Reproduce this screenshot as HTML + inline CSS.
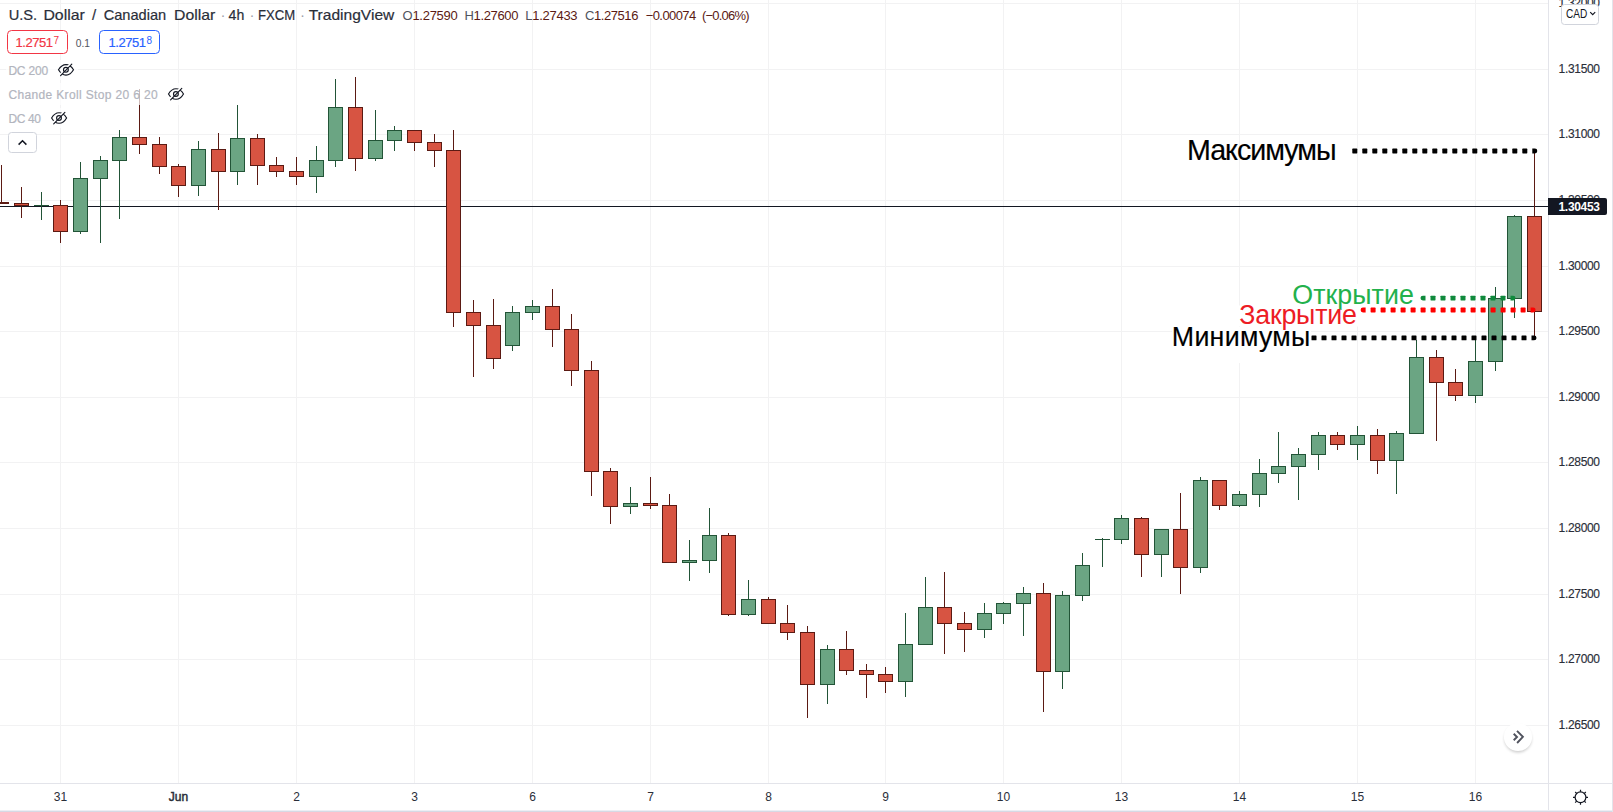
<!DOCTYPE html>
<html lang="ru"><head><meta charset="utf-8"><title>USDCAD 4h</title>
<style>html,body{margin:0;padding:0;background:#fff;overflow:hidden}svg{display:block}text{font-family:"Liberation Sans",sans-serif}</style>
</head><body>
<svg width="1613" height="812" viewBox="0 0 1613 812">
<rect width="1613" height="812" fill="#fff"/>
<g shape-rendering="crispEdges">
<rect x="60" y="0" width="1" height="783" fill="#f2f2f3"/>
<rect x="178" y="0" width="1" height="783" fill="#f2f2f3"/>
<rect x="296" y="0" width="1" height="783" fill="#f2f2f3"/>
<rect x="414" y="0" width="1" height="783" fill="#f2f2f3"/>
<rect x="532" y="0" width="1" height="783" fill="#f2f2f3"/>
<rect x="650" y="0" width="1" height="783" fill="#f2f2f3"/>
<rect x="768" y="0" width="1" height="783" fill="#f2f2f3"/>
<rect x="885" y="0" width="1" height="783" fill="#f2f2f3"/>
<rect x="1003" y="0" width="1" height="783" fill="#f2f2f3"/>
<rect x="1121" y="0" width="1" height="783" fill="#f2f2f3"/>
<rect x="1239" y="0" width="1" height="783" fill="#f2f2f3"/>
<rect x="1357" y="0" width="1" height="783" fill="#f2f2f3"/>
<rect x="1475" y="0" width="1" height="783" fill="#f2f2f3"/>
<rect x="0" y="3" width="1548" height="1" fill="#f2f2f3"/>
<rect x="0" y="69" width="1548" height="1" fill="#f2f2f3"/>
<rect x="0" y="134" width="1548" height="1" fill="#f2f2f3"/>
<rect x="0" y="200" width="1548" height="1" fill="#f2f2f3"/>
<rect x="0" y="266" width="1548" height="1" fill="#f2f2f3"/>
<rect x="0" y="331" width="1548" height="1" fill="#f2f2f3"/>
<rect x="0" y="397" width="1548" height="1" fill="#f2f2f3"/>
<rect x="0" y="462" width="1548" height="1" fill="#f2f2f3"/>
<rect x="0" y="528" width="1548" height="1" fill="#f2f2f3"/>
<rect x="0" y="594" width="1548" height="1" fill="#f2f2f3"/>
<rect x="0" y="659" width="1548" height="1" fill="#f2f2f3"/>
<rect x="0" y="725" width="1548" height="1" fill="#f2f2f3"/>
</g>
<rect x="0" y="206" width="1548" height="1" fill="#131722" shape-rendering="crispEdges"/>
<g shape-rendering="crispEdges">
<rect x="1" y="165" width="1" height="39" fill="#5b1a13"/>
<rect x="-6" y="202" width="15" height="2" fill="#5b1a13"/>
<rect x="21" y="187" width="1" height="31" fill="#5b1a13"/>
<rect x="14" y="203" width="15" height="3" fill="#5b1a13"/>
<rect x="15" y="204" width="13" height="1" fill="#d75442"/>
<rect x="41" y="192" width="1" height="28" fill="#225437"/>
<rect x="34" y="205" width="15" height="1" fill="#225437"/>
<rect x="60" y="200" width="1" height="43" fill="#5b1a13"/>
<rect x="53" y="205" width="15" height="27" fill="#5b1a13"/>
<rect x="54" y="206" width="13" height="25" fill="#d75442"/>
<rect x="80" y="162" width="1" height="72" fill="#225437"/>
<rect x="73" y="178" width="15" height="54" fill="#225437"/>
<rect x="74" y="179" width="13" height="52" fill="#6ba583"/>
<rect x="100" y="156" width="1" height="87" fill="#225437"/>
<rect x="93" y="160" width="15" height="19" fill="#225437"/>
<rect x="94" y="161" width="13" height="17" fill="#6ba583"/>
<rect x="119" y="130" width="1" height="89" fill="#225437"/>
<rect x="112" y="137" width="15" height="24" fill="#225437"/>
<rect x="113" y="138" width="13" height="22" fill="#6ba583"/>
<rect x="139" y="89" width="1" height="65" fill="#5b1a13"/>
<rect x="132" y="137" width="15" height="8" fill="#5b1a13"/>
<rect x="133" y="138" width="13" height="6" fill="#d75442"/>
<rect x="159" y="137" width="1" height="37" fill="#5b1a13"/>
<rect x="152" y="144" width="15" height="23" fill="#5b1a13"/>
<rect x="153" y="145" width="13" height="21" fill="#d75442"/>
<rect x="178" y="164" width="1" height="33" fill="#5b1a13"/>
<rect x="171" y="166" width="15" height="20" fill="#5b1a13"/>
<rect x="172" y="167" width="13" height="18" fill="#d75442"/>
<rect x="198" y="141" width="1" height="55" fill="#225437"/>
<rect x="191" y="149" width="15" height="37" fill="#225437"/>
<rect x="192" y="150" width="13" height="35" fill="#6ba583"/>
<rect x="218" y="133" width="1" height="77" fill="#5b1a13"/>
<rect x="211" y="149" width="15" height="23" fill="#5b1a13"/>
<rect x="212" y="150" width="13" height="21" fill="#d75442"/>
<rect x="237" y="105" width="1" height="80" fill="#225437"/>
<rect x="230" y="138" width="15" height="34" fill="#225437"/>
<rect x="231" y="139" width="13" height="32" fill="#6ba583"/>
<rect x="257" y="134" width="1" height="51" fill="#5b1a13"/>
<rect x="250" y="138" width="15" height="28" fill="#5b1a13"/>
<rect x="251" y="139" width="13" height="26" fill="#d75442"/>
<rect x="276" y="157" width="1" height="20" fill="#5b1a13"/>
<rect x="269" y="165" width="15" height="7" fill="#5b1a13"/>
<rect x="270" y="166" width="13" height="5" fill="#d75442"/>
<rect x="296" y="157" width="1" height="28" fill="#5b1a13"/>
<rect x="289" y="171" width="15" height="6" fill="#5b1a13"/>
<rect x="290" y="172" width="13" height="4" fill="#d75442"/>
<rect x="316" y="146" width="1" height="47" fill="#225437"/>
<rect x="309" y="160" width="15" height="17" fill="#225437"/>
<rect x="310" y="161" width="13" height="15" fill="#6ba583"/>
<rect x="335" y="79" width="1" height="88" fill="#225437"/>
<rect x="328" y="107" width="15" height="54" fill="#225437"/>
<rect x="329" y="108" width="13" height="52" fill="#6ba583"/>
<rect x="355" y="77" width="1" height="94" fill="#5b1a13"/>
<rect x="348" y="107" width="15" height="52" fill="#5b1a13"/>
<rect x="349" y="108" width="13" height="50" fill="#d75442"/>
<rect x="375" y="110" width="1" height="51" fill="#225437"/>
<rect x="368" y="140" width="15" height="19" fill="#225437"/>
<rect x="369" y="141" width="13" height="17" fill="#6ba583"/>
<rect x="394" y="126" width="1" height="25" fill="#225437"/>
<rect x="387" y="130" width="15" height="11" fill="#225437"/>
<rect x="388" y="131" width="13" height="9" fill="#6ba583"/>
<rect x="414" y="130" width="1" height="21" fill="#5b1a13"/>
<rect x="407" y="130" width="15" height="13" fill="#5b1a13"/>
<rect x="408" y="131" width="13" height="11" fill="#d75442"/>
<rect x="434" y="134" width="1" height="33" fill="#5b1a13"/>
<rect x="427" y="142" width="15" height="9" fill="#5b1a13"/>
<rect x="428" y="143" width="13" height="7" fill="#d75442"/>
<rect x="453" y="130" width="1" height="197" fill="#5b1a13"/>
<rect x="446" y="150" width="15" height="163" fill="#5b1a13"/>
<rect x="447" y="151" width="13" height="161" fill="#d75442"/>
<rect x="473" y="300" width="1" height="77" fill="#5b1a13"/>
<rect x="466" y="312" width="15" height="14" fill="#5b1a13"/>
<rect x="467" y="313" width="13" height="12" fill="#d75442"/>
<rect x="493" y="299" width="1" height="70" fill="#5b1a13"/>
<rect x="486" y="325" width="15" height="34" fill="#5b1a13"/>
<rect x="487" y="326" width="13" height="32" fill="#d75442"/>
<rect x="512" y="306" width="1" height="45" fill="#225437"/>
<rect x="505" y="312" width="15" height="34" fill="#225437"/>
<rect x="506" y="313" width="13" height="32" fill="#6ba583"/>
<rect x="532" y="300" width="1" height="20" fill="#225437"/>
<rect x="525" y="306" width="15" height="7" fill="#225437"/>
<rect x="526" y="307" width="13" height="5" fill="#6ba583"/>
<rect x="552" y="289" width="1" height="58" fill="#5b1a13"/>
<rect x="545" y="306" width="15" height="24" fill="#5b1a13"/>
<rect x="546" y="307" width="13" height="22" fill="#d75442"/>
<rect x="571" y="314" width="1" height="72" fill="#5b1a13"/>
<rect x="564" y="329" width="15" height="42" fill="#5b1a13"/>
<rect x="565" y="330" width="13" height="40" fill="#d75442"/>
<rect x="591" y="361" width="1" height="135" fill="#5b1a13"/>
<rect x="584" y="370" width="15" height="102" fill="#5b1a13"/>
<rect x="585" y="371" width="13" height="100" fill="#d75442"/>
<rect x="610" y="468" width="1" height="56" fill="#5b1a13"/>
<rect x="603" y="471" width="15" height="36" fill="#5b1a13"/>
<rect x="604" y="472" width="13" height="34" fill="#d75442"/>
<rect x="630" y="487" width="1" height="27" fill="#225437"/>
<rect x="623" y="503" width="15" height="4" fill="#225437"/>
<rect x="624" y="504" width="13" height="2" fill="#6ba583"/>
<rect x="650" y="477" width="1" height="32" fill="#5b1a13"/>
<rect x="643" y="503" width="15" height="3" fill="#5b1a13"/>
<rect x="644" y="504" width="13" height="1" fill="#d75442"/>
<rect x="669" y="494" width="1" height="69" fill="#5b1a13"/>
<rect x="662" y="505" width="15" height="58" fill="#5b1a13"/>
<rect x="663" y="506" width="13" height="56" fill="#d75442"/>
<rect x="689" y="540" width="1" height="41" fill="#225437"/>
<rect x="682" y="560" width="15" height="3" fill="#225437"/>
<rect x="683" y="561" width="13" height="1" fill="#6ba583"/>
<rect x="709" y="508" width="1" height="65" fill="#225437"/>
<rect x="702" y="535" width="15" height="26" fill="#225437"/>
<rect x="703" y="536" width="13" height="24" fill="#6ba583"/>
<rect x="728" y="533" width="1" height="83" fill="#5b1a13"/>
<rect x="721" y="535" width="15" height="80" fill="#5b1a13"/>
<rect x="722" y="536" width="13" height="78" fill="#d75442"/>
<rect x="748" y="580" width="1" height="36" fill="#225437"/>
<rect x="741" y="599" width="15" height="16" fill="#225437"/>
<rect x="742" y="600" width="13" height="14" fill="#6ba583"/>
<rect x="768" y="597" width="1" height="27" fill="#5b1a13"/>
<rect x="761" y="599" width="15" height="25" fill="#5b1a13"/>
<rect x="762" y="600" width="13" height="23" fill="#d75442"/>
<rect x="787" y="605" width="1" height="35" fill="#5b1a13"/>
<rect x="780" y="623" width="15" height="10" fill="#5b1a13"/>
<rect x="781" y="624" width="13" height="8" fill="#d75442"/>
<rect x="807" y="626" width="1" height="92" fill="#5b1a13"/>
<rect x="800" y="632" width="15" height="53" fill="#5b1a13"/>
<rect x="801" y="633" width="13" height="51" fill="#d75442"/>
<rect x="827" y="645" width="1" height="59" fill="#225437"/>
<rect x="820" y="649" width="15" height="36" fill="#225437"/>
<rect x="821" y="650" width="13" height="34" fill="#6ba583"/>
<rect x="846" y="631" width="1" height="44" fill="#5b1a13"/>
<rect x="839" y="649" width="15" height="22" fill="#5b1a13"/>
<rect x="840" y="650" width="13" height="20" fill="#d75442"/>
<rect x="866" y="664" width="1" height="34" fill="#5b1a13"/>
<rect x="859" y="670" width="15" height="5" fill="#5b1a13"/>
<rect x="860" y="671" width="13" height="3" fill="#d75442"/>
<rect x="885" y="667" width="1" height="26" fill="#5b1a13"/>
<rect x="878" y="674" width="15" height="8" fill="#5b1a13"/>
<rect x="879" y="675" width="13" height="6" fill="#d75442"/>
<rect x="905" y="613" width="1" height="84" fill="#225437"/>
<rect x="898" y="644" width="15" height="38" fill="#225437"/>
<rect x="899" y="645" width="13" height="36" fill="#6ba583"/>
<rect x="925" y="577" width="1" height="68" fill="#225437"/>
<rect x="918" y="607" width="15" height="38" fill="#225437"/>
<rect x="919" y="608" width="13" height="36" fill="#6ba583"/>
<rect x="944" y="572" width="1" height="82" fill="#5b1a13"/>
<rect x="937" y="607" width="15" height="17" fill="#5b1a13"/>
<rect x="938" y="608" width="13" height="15" fill="#d75442"/>
<rect x="964" y="612" width="1" height="40" fill="#5b1a13"/>
<rect x="957" y="623" width="15" height="7" fill="#5b1a13"/>
<rect x="958" y="624" width="13" height="5" fill="#d75442"/>
<rect x="984" y="603" width="1" height="35" fill="#225437"/>
<rect x="977" y="613" width="15" height="17" fill="#225437"/>
<rect x="978" y="614" width="13" height="15" fill="#6ba583"/>
<rect x="1003" y="602" width="1" height="22" fill="#225437"/>
<rect x="996" y="603" width="15" height="11" fill="#225437"/>
<rect x="997" y="604" width="13" height="9" fill="#6ba583"/>
<rect x="1023" y="587" width="1" height="49" fill="#225437"/>
<rect x="1016" y="593" width="15" height="11" fill="#225437"/>
<rect x="1017" y="594" width="13" height="9" fill="#6ba583"/>
<rect x="1043" y="583" width="1" height="129" fill="#5b1a13"/>
<rect x="1036" y="593" width="15" height="79" fill="#5b1a13"/>
<rect x="1037" y="594" width="13" height="77" fill="#d75442"/>
<rect x="1062" y="591" width="1" height="98" fill="#225437"/>
<rect x="1055" y="595" width="15" height="77" fill="#225437"/>
<rect x="1056" y="596" width="13" height="75" fill="#6ba583"/>
<rect x="1082" y="553" width="1" height="48" fill="#225437"/>
<rect x="1075" y="565" width="15" height="31" fill="#225437"/>
<rect x="1076" y="566" width="13" height="29" fill="#6ba583"/>
<rect x="1102" y="538" width="1" height="29" fill="#225437"/>
<rect x="1095" y="539" width="15" height="1" fill="#225437"/>
<rect x="1121" y="515" width="1" height="29" fill="#225437"/>
<rect x="1114" y="518" width="15" height="22" fill="#225437"/>
<rect x="1115" y="519" width="13" height="20" fill="#6ba583"/>
<rect x="1141" y="517" width="1" height="60" fill="#5b1a13"/>
<rect x="1134" y="518" width="15" height="37" fill="#5b1a13"/>
<rect x="1135" y="519" width="13" height="35" fill="#d75442"/>
<rect x="1161" y="529" width="1" height="48" fill="#225437"/>
<rect x="1154" y="529" width="15" height="26" fill="#225437"/>
<rect x="1155" y="530" width="13" height="24" fill="#6ba583"/>
<rect x="1180" y="493" width="1" height="101" fill="#5b1a13"/>
<rect x="1173" y="529" width="15" height="39" fill="#5b1a13"/>
<rect x="1174" y="530" width="13" height="37" fill="#d75442"/>
<rect x="1200" y="477" width="1" height="96" fill="#225437"/>
<rect x="1193" y="480" width="15" height="88" fill="#225437"/>
<rect x="1194" y="481" width="13" height="86" fill="#6ba583"/>
<rect x="1219" y="480" width="1" height="30" fill="#5b1a13"/>
<rect x="1212" y="480" width="15" height="26" fill="#5b1a13"/>
<rect x="1213" y="481" width="13" height="24" fill="#d75442"/>
<rect x="1239" y="491" width="1" height="16" fill="#225437"/>
<rect x="1232" y="494" width="15" height="12" fill="#225437"/>
<rect x="1233" y="495" width="13" height="10" fill="#6ba583"/>
<rect x="1259" y="459" width="1" height="48" fill="#225437"/>
<rect x="1252" y="473" width="15" height="22" fill="#225437"/>
<rect x="1253" y="474" width="13" height="20" fill="#6ba583"/>
<rect x="1278" y="432" width="1" height="51" fill="#225437"/>
<rect x="1271" y="466" width="15" height="8" fill="#225437"/>
<rect x="1272" y="467" width="13" height="6" fill="#6ba583"/>
<rect x="1298" y="448" width="1" height="52" fill="#225437"/>
<rect x="1291" y="454" width="15" height="13" fill="#225437"/>
<rect x="1292" y="455" width="13" height="11" fill="#6ba583"/>
<rect x="1318" y="432" width="1" height="38" fill="#225437"/>
<rect x="1311" y="435" width="15" height="20" fill="#225437"/>
<rect x="1312" y="436" width="13" height="18" fill="#6ba583"/>
<rect x="1337" y="432" width="1" height="18" fill="#5b1a13"/>
<rect x="1330" y="435" width="15" height="10" fill="#5b1a13"/>
<rect x="1331" y="436" width="13" height="8" fill="#d75442"/>
<rect x="1357" y="426" width="1" height="34" fill="#225437"/>
<rect x="1350" y="435" width="15" height="10" fill="#225437"/>
<rect x="1351" y="436" width="13" height="8" fill="#6ba583"/>
<rect x="1377" y="429" width="1" height="45" fill="#5b1a13"/>
<rect x="1370" y="435" width="15" height="26" fill="#5b1a13"/>
<rect x="1371" y="436" width="13" height="24" fill="#d75442"/>
<rect x="1396" y="431" width="1" height="63" fill="#225437"/>
<rect x="1389" y="433" width="15" height="28" fill="#225437"/>
<rect x="1390" y="434" width="13" height="26" fill="#6ba583"/>
<rect x="1416" y="340" width="1" height="94" fill="#225437"/>
<rect x="1409" y="357" width="15" height="77" fill="#225437"/>
<rect x="1410" y="358" width="13" height="75" fill="#6ba583"/>
<rect x="1436" y="350" width="1" height="91" fill="#5b1a13"/>
<rect x="1429" y="357" width="15" height="26" fill="#5b1a13"/>
<rect x="1430" y="358" width="13" height="24" fill="#d75442"/>
<rect x="1455" y="369" width="1" height="32" fill="#5b1a13"/>
<rect x="1448" y="382" width="15" height="14" fill="#5b1a13"/>
<rect x="1449" y="383" width="13" height="12" fill="#d75442"/>
<rect x="1475" y="340" width="1" height="63" fill="#225437"/>
<rect x="1468" y="361" width="15" height="35" fill="#225437"/>
<rect x="1469" y="362" width="13" height="33" fill="#6ba583"/>
<rect x="1495" y="287" width="1" height="84" fill="#225437"/>
<rect x="1488" y="298" width="15" height="64" fill="#225437"/>
<rect x="1489" y="299" width="13" height="62" fill="#6ba583"/>
<rect x="1514" y="215" width="1" height="103" fill="#225437"/>
<rect x="1507" y="216" width="15" height="83" fill="#225437"/>
<rect x="1508" y="217" width="13" height="81" fill="#6ba583"/>
<rect x="1534" y="151" width="1" height="187" fill="#5b1a13"/>
<rect x="1527" y="216" width="15" height="96" fill="#5b1a13"/>
<rect x="1528" y="217" width="13" height="94" fill="#d75442"/>
</g>
<!-- axes -->
<g shape-rendering="crispEdges">
<rect x="1548" y="0" width="1" height="811" fill="#e3e4ea"/>
<rect x="0" y="783" width="1613" height="1" fill="#e3e4ea"/>
<rect x="0" y="810" width="1613" height="1" fill="#eceef4"/><rect x="0" y="811" width="1613" height="1" fill="#d6d9e4"/>
<rect x="1612" y="0" width="1" height="812" fill="#e3e4ea"/>
</g>
<!-- price labels -->
<g font-size="12" fill="#2a2e39" stroke="#2a2e39" stroke-width="0.15">
<text x="1558.6" y="6.7" textLength="41.4">1.32000</text>
<text x="1558.6" y="72.7" textLength="41.4">1.31500</text>
<text x="1558.6" y="137.7" textLength="41.4">1.31000</text>
<text x="1558.6" y="203.7" textLength="41.4">1.30500</text>
<text x="1558.6" y="269.7" textLength="41.4">1.30000</text>
<text x="1558.6" y="334.7" textLength="41.4">1.29500</text>
<text x="1558.6" y="400.7" textLength="41.4">1.29000</text>
<text x="1558.6" y="465.7" textLength="41.4">1.28500</text>
<text x="1558.6" y="531.7" textLength="41.4">1.28000</text>
<text x="1558.6" y="597.7" textLength="41.4">1.27500</text>
<text x="1558.6" y="662.7" textLength="41.4">1.27000</text>
<text x="1558.6" y="728.7" textLength="41.4">1.26500</text>
</g>
<!-- CAD selector -->
<rect x="1561.5" y="4.5" width="37" height="20" rx="3" fill="#fff" stroke="#d1d4dc"/>
<text x="1566" y="18" font-size="12" fill="#131722" textLength="21.3" lengthAdjust="spacingAndGlyphs">CAD</text>
<path d="M1590.2 12.2l2.5 2.5 2.5-2.5" fill="none" stroke="#131722" stroke-width="1.2"/>
<!-- current price label -->
<path d="M1548 198h57a2 2 0 0 1 2 2v13a2 2 0 0 1-2 2h-57z" fill="#131722"/>
<text x="1558.5" y="210.7" font-size="12" font-weight="bold" fill="#fff" textLength="41.5">1.30453</text>
<!-- time labels -->
<g font-size="12" fill="#2a2e39" text-anchor="middle">
<text x="60.5" y="801.1">31</text>
<text x="178.5" y="801.1" stroke="#2a2e39" stroke-width="0.45">Jun</text>
<text x="296.5" y="801.1">2</text>
<text x="414.5" y="801.1">3</text>
<text x="532.5" y="801.1">6</text>
<text x="650.5" y="801.1">7</text>
<text x="768.5" y="801.1">8</text>
<text x="885.5" y="801.1">9</text>
<text x="1003.5" y="801.1">10</text>
<text x="1121.5" y="801.1">13</text>
<text x="1239.5" y="801.1">14</text>
<text x="1357.5" y="801.1">15</text>
<text x="1475.5" y="801.1">16</text>
</g>
<!-- gear -->
<g fill="none" stroke="#131722" stroke-width="1.2">
<circle cx="1580.5" cy="797.3" r="5.4"/>
<path d="M1580.5 789.8v2M1580.5 802.8v2M1573 797.3h2M1586 797.3h2M1575.2 792l1.4 1.4M1584.4 801.2l1.4 1.4M1575.2 802.6l1.4-1.4M1584.4 793.4l1.4-1.4"/>
</g>
<!-- scroll to realtime button -->
<defs><filter id="sh" x="-40%" y="-40%" width="180%" height="190%"><feGaussianBlur stdDeviation="1.6"/></filter></defs>
<circle cx="1518" cy="739" r="13.5" fill="#000" opacity="0.2" filter="url(#sh)"/>
<circle cx="1518" cy="737" r="14.1" fill="#fff"/>
<path d="M1517 730.9l5.9 5.9-5.8 6.2M1513.7 733.8l3.3 3.2-3.3 3.2" fill="none" stroke="#50535e" stroke-width="1.9"/>
<!-- legend backgrounds (semi transparent) -->
<rect x="6" y="60" width="72" height="20" fill="#fff" opacity="0.7"/>
<rect x="6" y="83" width="182" height="22" fill="#fff" opacity="0.7"/>
<rect x="6" y="108" width="64" height="20" fill="#fff" opacity="0.7"/>
<!-- title -->
<g font-size="15" fill="#2a2e39" stroke="#2a2e39" stroke-width="0.2"><text x="8.7" y="19.8" textLength="28.5" lengthAdjust="spacingAndGlyphs">U.S.</text><text x="43.4" y="19.8" textLength="41.4" lengthAdjust="spacingAndGlyphs">Dollar</text><text x="92" y="19.8">/</text><text x="103.7" y="19.8" textLength="62.5" lengthAdjust="spacingAndGlyphs">Canadian</text><text x="174.1" y="19.8" textLength="41.2" lengthAdjust="spacingAndGlyphs">Dollar</text><text x="220.5" y="19.8" fill="#9da0aa" stroke="none">·</text><text x="228.6" y="19.8" textLength="15.7" lengthAdjust="spacingAndGlyphs">4h</text><text x="249.5" y="19.8" fill="#9da0aa" stroke="none">·</text><text x="257.9" y="19.8" textLength="37.2" lengthAdjust="spacingAndGlyphs">FXCM</text><text x="300" y="19.8" fill="#9da0aa" stroke="none">·</text><text x="308.7" y="19.8" textLength="85.6" lengthAdjust="spacingAndGlyphs">TradingView</text></g>
<g font-size="13">
<text x="402.6" y="20.2" fill="#50535e" textLength="55.1"><tspan>O</tspan><tspan fill="#5b1a13">1.27590</tspan></text>
<text x="464.5" y="20.2" fill="#50535e" textLength="53.9"><tspan>H</tspan><tspan fill="#5b1a13">1.27600</tspan></text>
<text x="525.3" y="20.2" fill="#50535e" textLength="52.3"><tspan>L</tspan><tspan fill="#5b1a13">1.27433</tspan></text>
<text x="585" y="20.2" fill="#50535e" textLength="53.4"><tspan>C</tspan><tspan fill="#5b1a13">1.27516</tspan></text>
<text x="645.7" y="20.2" fill="#5b1a13" textLength="50.5">−0.00074</text>
<text x="702" y="20.2" fill="#5b1a13" textLength="47.6">(−0.06%)</text>
</g>
<!-- bid/ask -->
<rect x="7.5" y="30.5" width="60" height="23" rx="4" fill="#fff" stroke="#f23645"/>
<text x="15.5" y="46.8" font-size="13" fill="#f23645" stroke="#f23645" stroke-width="0.2" textLength="37.5">1.2751</text>
<text x="53.5" y="44.4" font-size="10" fill="#f23645">7</text>
<text x="75.8" y="46.6" font-size="11.5" fill="#50535e" textLength="14.2" lengthAdjust="spacingAndGlyphs">0.1</text>
<rect x="99.5" y="30.5" width="60" height="23" rx="4" fill="#fff" stroke="#2962ff"/>
<text x="108.5" y="46.8" font-size="13" fill="#2962ff" stroke="#2962ff" stroke-width="0.2" textLength="37.5">1.2751</text>
<text x="146.5" y="44.4" font-size="10" fill="#2962ff">8</text>
<!-- indicators -->
<g font-size="12" fill="#b2b5be" stroke="#b2b5be" stroke-width="0.2">
<text x="8.4" y="74.7" textLength="39.7">DC 200</text>
<text x="8.4" y="98.9" textLength="149.3">Chande Kroll Stop 20 6 20</text>
<text x="8.4" y="122.7" textLength="32.5">DC 40</text>
</g>

<g transform="translate(66 69.8)" fill="none" stroke="#131722" stroke-width="1.15"><path d="M-7.5 0C-5.6-3.3-3-5.25 0-5.25S5.6-3.3 7.5 0C5.6 3.3 3 5.25 0 5.25S-5.6 3.3-7.5 0z"/><path d="M-6.1 5.1L5.1-6.3" stroke="#fff" stroke-width="2.2"/><circle cx="-0.1" cy="0" r="2.4"/><path d="M-5.4 5.8L5.8-5.6" stroke-linecap="round"/></g>
<g transform="translate(176 94)" fill="none" stroke="#131722" stroke-width="1.15"><path d="M-7.5 0C-5.6-3.3-3-5.25 0-5.25S5.6-3.3 7.5 0C5.6 3.3 3 5.25 0 5.25S-5.6 3.3-7.5 0z"/><path d="M-6.1 5.1L5.1-6.3" stroke="#fff" stroke-width="2.2"/><circle cx="-0.1" cy="0" r="2.4"/><path d="M-5.4 5.8L5.8-5.6" stroke-linecap="round"/></g>
<g transform="translate(59.1 118)" fill="none" stroke="#131722" stroke-width="1.15"><path d="M-7.5 0C-5.6-3.3-3-5.25 0-5.25S5.6-3.3 7.5 0C5.6 3.3 3 5.25 0 5.25S-5.6 3.3-7.5 0z"/><path d="M-6.1 5.1L5.1-6.3" stroke="#fff" stroke-width="2.2"/><circle cx="-0.1" cy="0" r="2.4"/><path d="M-5.4 5.8L5.8-5.6" stroke-linecap="round"/></g>
<!-- collapse button -->
<rect x="8.5" y="132.5" width="28" height="20" rx="3" fill="#fff" stroke="#d1d4dc"/>
<path d="M18.6 144.6l3.9-3.9 3.9 3.9" fill="none" stroke="#131722" stroke-width="1.5"/>
<!-- annotations -->
<rect x="1292" y="284" width="122" height="22" fill="#fff"/><rect x="1238" y="305.5" width="120" height="21" fill="#fff"/><rect x="1172" y="327" width="139" height="36" fill="#fff"/>
<g fill="#000"><rect x="1352.3" y="148.60" width="5" height="4.8" rx="0.6"/><rect x="1362.3" y="148.60" width="5" height="4.8" rx="0.6"/><rect x="1372.3" y="148.60" width="5" height="4.8" rx="0.6"/><rect x="1382.3" y="148.60" width="5" height="4.8" rx="0.6"/><rect x="1392.3" y="148.60" width="5" height="4.8" rx="0.6"/><rect x="1402.3" y="148.60" width="5" height="4.8" rx="0.6"/><rect x="1412.3" y="148.60" width="5" height="4.8" rx="0.6"/><rect x="1422.3" y="148.60" width="5" height="4.8" rx="0.6"/><rect x="1432.3" y="148.60" width="5" height="4.8" rx="0.6"/><rect x="1442.3" y="148.60" width="5" height="4.8" rx="0.6"/><rect x="1452.3" y="148.60" width="5" height="4.8" rx="0.6"/><rect x="1462.3" y="148.60" width="5" height="4.8" rx="0.6"/><rect x="1472.3" y="148.60" width="5" height="4.8" rx="0.6"/><rect x="1482.3" y="148.60" width="5" height="4.8" rx="0.6"/><rect x="1492.3" y="148.60" width="5" height="4.8" rx="0.6"/><rect x="1502.3" y="148.60" width="5" height="4.8" rx="0.6"/><rect x="1512.3" y="148.60" width="5" height="4.8" rx="0.6"/><rect x="1522.3" y="148.60" width="5" height="4.8" rx="0.6"/><path d="M1532.3 148.60h2.6a2.4 2.4 0 0 1 0 4.8h-2.6z"/></g>
<g fill="#0f8a3c"><path d="M1425.5 295.65h-2.6a2.4 2.4 0 0 0 0 4.8h2.6z"/><rect x="1430.5" y="295.65" width="5" height="4.8" rx="0.6"/><rect x="1440.5" y="295.65" width="5" height="4.8" rx="0.6"/><rect x="1450.5" y="295.65" width="5" height="4.8" rx="0.6"/><rect x="1460.5" y="295.65" width="5" height="4.8" rx="0.6"/><rect x="1470.5" y="295.65" width="5" height="4.8" rx="0.6"/><rect x="1480.5" y="295.65" width="5" height="4.8" rx="0.6"/><rect x="1490.5" y="295.65" width="5" height="4.8" rx="0.6"/><rect x="1500.5" y="295.65" width="5" height="4.8" rx="0.6"/><path d="M1510.5 295.65h2.6a2.4 2.4 0 0 1 0 4.8h-2.6z"/></g>
<g fill="#ff0000"><path d="M1365.6 307.60h-2.6a2.4 2.4 0 0 0 0 4.8h2.6z"/><rect x="1370.6" y="307.60" width="5" height="4.8" rx="0.6"/><rect x="1380.6" y="307.60" width="5" height="4.8" rx="0.6"/><rect x="1390.6" y="307.60" width="5" height="4.8" rx="0.6"/><rect x="1400.6" y="307.60" width="5" height="4.8" rx="0.6"/><rect x="1410.6" y="307.60" width="5" height="4.8" rx="0.6"/><rect x="1420.6" y="307.60" width="5" height="4.8" rx="0.6"/><rect x="1430.6" y="307.60" width="5" height="4.8" rx="0.6"/><rect x="1440.6" y="307.60" width="5" height="4.8" rx="0.6"/><rect x="1450.6" y="307.60" width="5" height="4.8" rx="0.6"/><rect x="1460.6" y="307.60" width="5" height="4.8" rx="0.6"/><rect x="1470.6" y="307.60" width="5" height="4.8" rx="0.6"/><rect x="1480.6" y="307.60" width="5" height="4.8" rx="0.6"/><rect x="1490.6" y="307.60" width="5" height="4.8" rx="0.6"/><rect x="1500.6" y="307.60" width="5" height="4.8" rx="0.6"/><rect x="1510.6" y="307.60" width="5" height="4.8" rx="0.6"/><rect x="1520.6" y="307.60" width="5" height="4.8" rx="0.6"/><path d="M1530.6 307.60h2.6a2.4 2.4 0 0 1 0 4.8h-2.6z"/></g>
<g fill="#000"><rect x="1311.5" y="335.50" width="5" height="4.8" rx="0.6"/><rect x="1321.5" y="335.50" width="5" height="4.8" rx="0.6"/><rect x="1331.5" y="335.50" width="5" height="4.8" rx="0.6"/><rect x="1341.5" y="335.50" width="5" height="4.8" rx="0.6"/><rect x="1351.5" y="335.50" width="5" height="4.8" rx="0.6"/><rect x="1361.5" y="335.50" width="5" height="4.8" rx="0.6"/><rect x="1371.5" y="335.50" width="5" height="4.8" rx="0.6"/><rect x="1381.5" y="335.50" width="5" height="4.8" rx="0.6"/><rect x="1391.5" y="335.50" width="5" height="4.8" rx="0.6"/><rect x="1401.5" y="335.50" width="5" height="4.8" rx="0.6"/><rect x="1411.5" y="335.50" width="5" height="4.8" rx="0.6"/><rect x="1421.5" y="335.50" width="5" height="4.8" rx="0.6"/><rect x="1431.5" y="335.50" width="5" height="4.8" rx="0.6"/><rect x="1441.5" y="335.50" width="5" height="4.8" rx="0.6"/><rect x="1451.5" y="335.50" width="5" height="4.8" rx="0.6"/><rect x="1461.5" y="335.50" width="5" height="4.8" rx="0.6"/><rect x="1471.5" y="335.50" width="5" height="4.8" rx="0.6"/><rect x="1481.5" y="335.50" width="5" height="4.8" rx="0.6"/><rect x="1491.5" y="335.50" width="5" height="4.8" rx="0.6"/><rect x="1501.5" y="335.50" width="5" height="4.8" rx="0.6"/><rect x="1511.5" y="335.50" width="5" height="4.8" rx="0.6"/><rect x="1521.5" y="335.50" width="5" height="4.8" rx="0.6"/><path d="M1531.5 335.50h2.6a2.4 2.4 0 0 1 0 4.8h-2.6z"/></g>
<text x="1187" y="159.9" font-size="28.7" fill="#000" stroke="#000" stroke-width="0.15" textLength="149.5">Максимумы</text>
<text x="1292.3" y="303.9" font-size="26.8" fill="#22b14c" textLength="121.5">Открытие</text>
<text x="1239.2" y="324.2" font-size="26.8" fill="#ed1c24" textLength="117.7">Закрытие</text>
<text x="1171.8" y="346.4" font-size="26.8" fill="#000" stroke="#000" stroke-width="0.15" textLength="138.4">Минимумы</text>

</svg></body></html>
